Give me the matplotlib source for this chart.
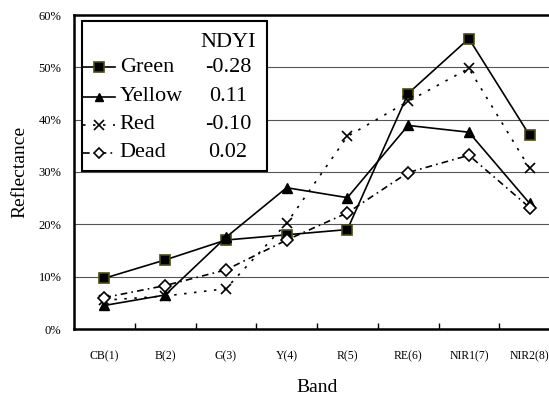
import matplotlib
matplotlib.use("Agg")
import matplotlib.pyplot as plt
from matplotlib.patches import Rectangle
from matplotlib.lines import Line2D

plt.rcParams['font.family'] = ['Liberation Serif', 'DejaVu Serif']

# --- data ---
bands = ['CB(1)', 'B(2)', 'G(3)', 'Y(4)', 'R(5)', 'RE(6)', 'NIR1(7)', 'NIR2(8)']
green = [9.7, 13.2, 17.0, 18.0, 19.0, 45.0, 55.5, 37.0]
yellow = [4.5, 6.5, 17.5, 27.0, 25.1, 38.9, 37.6, 24.0]
red = [5.5, 6.3, 7.7, 20.2, 36.8, 43.5, 49.8, 30.7]
dead = [6.0, 8.3, 11.3, 17.0, 22.2, 29.9, 33.2, 23.2]
names = ['Green', 'Yellow', 'Red', 'Dead']
ndyi = ['-0.28', '0.11', '-0.10', '0.02']

# --- styles ---
styles = [
    dict(ls='-', marker='s', ms=7.5, mfc='black', mec='#4a4a10', mew=1.2),
    dict(ls='-', marker='^', ms=7, mfc='black', mec='black'),
    dict(ls=(0, (1.5, 4.5)), marker='x', ms=7.5, mec='black', mew=1.2),
    dict(ls=(0, (4, 2.5, 1, 2.5)), marker='D', ms=6, mfc='white', mec='black', mew=1.2),
]

fig = plt.figure(figsize=(5.49, 3.96), dpi=100)
ax = fig.add_axes([74 / 549, 67 / 396, 486 / 549, 314 / 396])

x = list(range(len(bands)))
for vals, st in zip([green, yellow, red, dead], styles):
    ax.plot(x, vals, color='black', lw=1.2, zorder=3, clip_on=False, **st)

ax.set_xlim(-0.5, len(bands) - 0.5)
ax.set_ylim(0, 60)
ax.set_yticks(range(0, 61, 10))
ax.set_yticklabels([f'{v}%' for v in range(0, 61, 10)], fontsize=9)
ax.set_xticks(x)
ax.set_xticklabels(bands, fontsize=8.5)
ax.set_xticks([i + 0.5 for i in x[:-1]], minor=True)
ax.tick_params(axis='x', which='major', length=0, pad=15)
ax.tick_params(axis='x', which='minor', direction='in', length=4, width=1)
ax.tick_params(axis='y', length=0, pad=9)
ax.yaxis.grid(True, color='#555555', lw=0.8)
ax.set_axisbelow(True)

for s in ['left', 'bottom', 'top']:
    ax.spines[s].set_linewidth(1.8)
ax.spines['right'].set_visible(False)

ax.set_ylabel('Reflectance', fontsize=14)
ax.set_xlabel('Band', fontsize=14)
ax.yaxis.set_label_coords(-0.093, 0.5)
ax.xaxis.set_label_coords(0.5, -0.16)

# --- legend drawn by hand (two columns with NDYI values) ---
ax.add_patch(Rectangle((0.0165, 0.503), 0.38, 0.478, transform=ax.transAxes,
                       facecolor='white', edgecolor='black', lw=1.5, zorder=5))
ax.text(0.317, 0.914, 'NDYI', transform=ax.transAxes, fontsize=16,
        ha='center', va='center', zorder=6)
rows = [0.834, 0.739, 0.650, 0.561]
for yy, name, val, st in zip(rows, names, ndyi, styles):
    ax.add_line(Line2D([0.019, 0.084], [yy, yy], transform=ax.transAxes,
                       color='black', lw=1.2, zorder=6, ls=st['ls']))
    mk = {k: v for k, v in st.items() if k not in ('ls', 'ms')}
    ax.add_line(Line2D([0.0515], [yy], transform=ax.transAxes, ls='none',
                       color='black', zorder=7, ms=st['ms'] - 1, **mk))
    ax.text(0.094, yy, name, transform=ax.transAxes, fontsize=16,
            ha='left', va='center', zorder=6)
    ax.text(0.317, yy, val, transform=ax.transAxes, fontsize=16,
            ha='center', va='center', zorder=6)

fig.savefig('out.png', dpi=100)
